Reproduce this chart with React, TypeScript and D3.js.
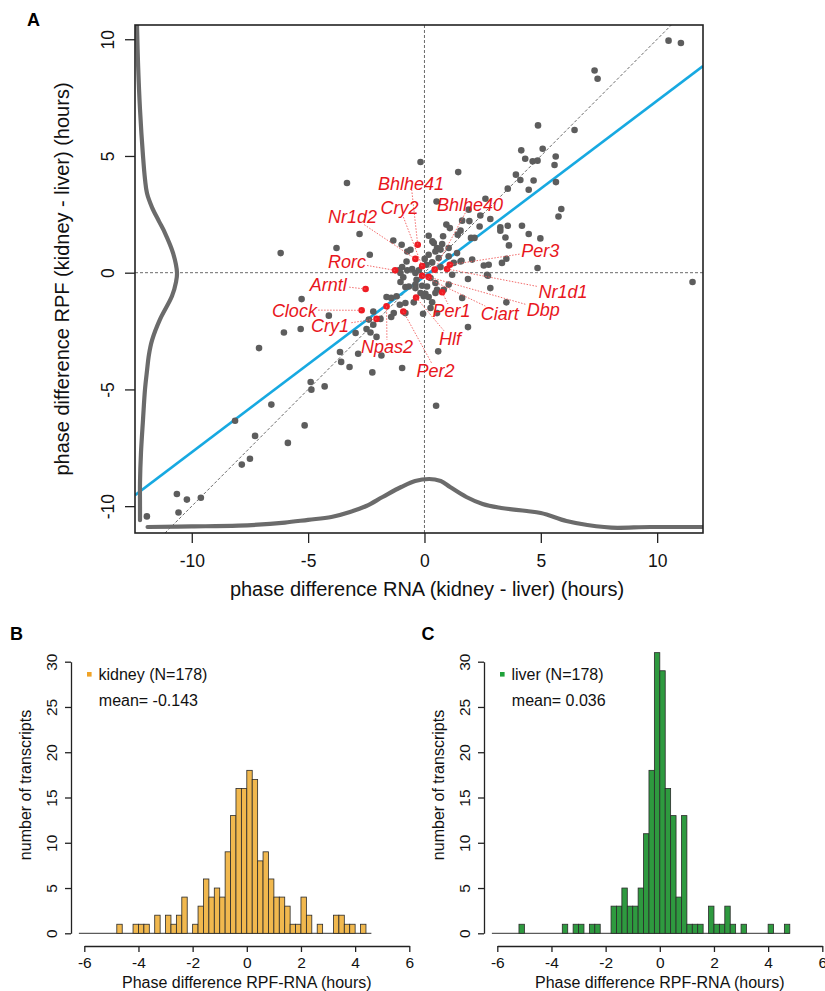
import React, { useEffect, useRef } from "react";
import * as d3 from "d3";

const FONT = "'Liberation Sans', Arial, Helvetica, sans-serif";

// ---- panel A: phase difference kidney - liver (hours) ----
// gray dots, one per rhythmic transcript
const rnaDiff = [
  10.49, 11.02, 7.31, 7.44, 4.88, 6.45, 4.16, 5.08, 4.33, 4.65,
  4.86, 5.64, 5.59, -0.17, 1.45, 3.93, 4.12, 4.69, 5.65, 3.58,
  4.48, 5.88, 5.76, 2.62, 0.52, 1.9, 2.4, 1.62, 1.93, 0.94,
  1.09, 1.55, 2.37, 2.83, 3.26, 3.26, 3.58, 4.19, 4.48, 4.98,
  3.48, 3.63, 2.0, 2.15, 1.43, 0.18, 0.4, 0.76, 1.04, 0.54,
  1.4, 1.59, 2.05, 3.33, 3.52, 2.55, 2.76, 4.86, 2.73, 1.87,
  1.19, 11.52, 0.8, 0.34, 0.69, 0.47, 0.18, 0.61, 1.04, 0.33,
  0.01, 0.09, 0.69, 1.26, 1.55,
  -3.33, -6.18, -2.79, -3.78, -2.35, -1.34, -0.98, -0.6, -0.74, -0.77,
  -0.96, -1.03, -0.91, -0.74, -0.53, -0.24, -0.34, -0.1, 0.11, 0.47,
  0.54, -0.67, 0.26, 1.04, 2.83, 2.69, -0.39, -1.1, -0.82,
  -0.39, -1.03,
  1.62, 3.52, 1.87, 0.59, 0.5, -0.96, -0.06, 0.47, 0.83,
  -0.17, 0.18, -0.82, -0.46, -0.39, 0.04, 0.33, 0.26, 0.54, -0.03,
  -5.28, -4.11, -6.04, -5.32, -7.11, -3.63, -2.85, -3.58, -3.22, -2.24,
  -1.85, -4.89, -4.86, -4.29, -6.58, -5.15, -8.14, -7.28, -5.87, -7.5,
  -7.85, -10.64, -10.21, -9.61, -10.57, -11.93, -2.39, -2.2, -2.2, -2.49,
  -2.32, -2.06, -2.96, -1.89, -1.63, -1.43, -1.2, -1.06, -0.82, -1.43,
  -1.32,
];
const rpfDiff = [
  9.94, 9.84, 8.66, 8.31, 6.31, 6.11, 5.24, 5.31, 4.88, 4.77,
  4.8, 4.98, 4.61, 4.74, 4.31, 4.2, 3.97, 3.95, 3.88, 3.6,
  3.55, 2.73, 2.41, 3.17, 3.05, 2.7, 2.45, 2.23, 2.21, 2.06,
  1.91, 1.8, 1.98, 2.3, 1.94, 1.8, 2.01, 2.01, 1.66, 1.47,
  1.51, 1.17, 1.49, 1.49, 1.63, 1.58, 1.27, 1.23, 1.06, 1.06,
  0.84, 0.51, 0.56, 0.42, 0.6, 0.31, 0.34, 0.2, -0.13, -0.27,
  -0.09, -0.4, 1.56, 1.34, 0.99, 0.91, 0.77, 0.63, 0.7, 0.44,
  0.59, 0.34, 0.24, 0.42, 0.48,
  3.84, 0.84, 1.66, 1.06, 0.77, 1.38, 1.2, 0.98, 0.91, 0.48,
  0.24, -0.01, -0.2, 0.1, 0.16, 0.1, -0.3, -0.56, -0.59, -0.44,
  -0.73, -0.59, -0.23, -0.51, -0.66, -0.09, -0.01, 0.1, -0.61,
  -0.51, -0.4,
  -1.08, -1.27, -2.33, -3.37, -5.7, -4.08, -1.76, -0.87, -0.73,
  -0.87, -1.04, -1.73, -1.27, -0.66, -0.9, -1.27, -1.51, -1.73, -1.01,
  -1.13, -1.84, -2.56, -2.41, -3.23, -3.4, -3.47, -3.82, -4.04, -4.27,
  -3.55, -4.68, -5.01, -4.87, -5.65, -6.54, -6.34, -6.99, -7.29, -7.97,
  -8.22, -9.48, -9.72, -9.64, -10.27, -10.44, -2.01, -1.66, -2.23, -2.41,
  -2.56, -2.75, -2.58, -1.98, -1.04, -1.08, -1.01, -1.37, -1.3, -1.9,
  -1.73,
];

// red dots: core clock genes
const clockGenes = ["Bhlhe41", "Cry2", "Nr1d2", "Bhlhe40", "Rorc", "Arntl", "Clock", "Cry1",
  "Npas2", "Per2", "Hlf", "Per1", "Ciart", "Dbp", "Nr1d1", "Per3"];
const clockRna = [-0.29, -0.1, -0.39, 0.44, -1.26, -2.53, -2.7, -2.06,
  -1.63, -0.91, -0.36, 0.76, -0.1, 0.18, 0.97, 1.09];
const clockRpf = [1.2, 0.28, 0.59, 0.13, 0.1, -0.7, -1.61, -1.98,
  -1.44, -1.66, -1.06, -0.84, -0.13, -0.18, 0.16, 0.34];
// where each gene name sits (centre, data units)
const labelRna = [-0.58, -1.07, -3.09, 1.96, -3.33, -4.13, -5.59, -4.06,
  -1.61, 0.47, 1.1, 1.16, 3.24, 5.11, 5.95, 4.98];
const labelRpf = [3.84, 2.81, 2.39, 2.94, 0.46, -0.52, -1.6, -2.28,
  -3.18, -4.17, -2.8, -1.64, -1.73, -1.57, -0.8, 0.93];

// fitted line (blue)
const fitSlope = 0.753;
const fitIntercept = -0.16;

// marginal densities
const rpfDensityAt = [10.6, 9, 7, 5, 4, 3.4, 2.8, 2.2, 1.7, 0.85, 0, -0.4, -1, -2, -2.9, -3.5, -4.2, -5, -6.3, -7.7, -9, -10, -10.6];
const rpfDensity = [0.005, 0.01, 0.02, 0.035, 0.045, 0.055, 0.08, 0.115, 0.145, 0.185, 0.205, 0.2, 0.18, 0.12, 0.08, 0.065, 0.055, 0.045, 0.035, 0.025, 0.02, 0.02, 0.02];
const rnaDensityAt = [-11.9, -10, -8, -6, -5, -4, -3.2, -2.5, -1.8, -1, -0.4, 0.2, 0.7, 1.1, 1.8, 2.5, 3.3, 4.4, 5, 6.1, 7, 8.3, 9.7, 11.1, 11.97];
const rnaDensity = [0.01, 0.013, 0.017, 0.032, 0.046, 0.06, 0.085, 0.115, 0.16, 0.21, 0.24, 0.25, 0.24, 0.21, 0.16, 0.125, 0.105, 0.09, 0.08, 0.04, 0.02, 0.006, 0.01, 0.01, 0.01];

const scatterTicks = [-10, -5, 0, 5, 10];

// ---- panels B, C: histograms of RPF-RNA phase difference ----
const binStart = -6.2;
const binWidth = 0.2;
const kidneyCounts = [
  0, 0, 0, 0, 0, 0, 0, 1, 0, 0, 1, 1, 1, 0, 2, 0, 2, 1, 2, 4,
  0, 1, 3, 6, 4, 5, 4, 9, 13, 16, 16, 18, 17, 8, 9, 6, 4, 4, 3, 1,
  1, 4, 2, 0, 1, 0, 0, 2, 2, 1, 1, 0, 1, 0,
];
const liverCounts = [
  0, 0, 0, 0, 0, 1, 0, 0, 0, 0, 0, 0, 0, 1, 0, 1, 1, 0, 1, 1,
  0, 0, 3, 3, 5, 3, 3, 5, 11, 18, 31, 29, 16, 13, 4, 13, 1, 1, 1, 0,
  3, 1, 1, 3, 1, 0, 1, 0, 0, 0, 0, 1, 0, 0, 1,
];
const histTicksX = [-6, -4, -2, 0, 2, 4, 6];
const histTicksY = [0, 5, 10, 15, 20, 25, 30];

function drawScatter(svg) {
  const left = 135, right = 703, top = 25, bottom = 533;
  const x = d3.scaleLinear().domain([-12.44, 11.97]).range([left, right]);
  const y = d3.scaleLinear().domain([-11.15, 10.61]).range([bottom, top]);
  const g = svg.append("g");

  g.append("clipPath").attr("id", "clipA")
    .append("rect").attr("x", left).attr("y", top).attr("width", right - left).attr("height", bottom - top);
  const plot = g.append("g").attr("clip-path", "url(#clipA)");

  // dashed reference lines
  const [xa, xb] = x.domain();
  const [ya, yb] = y.domain();
  const dash = (x1, y1, x2, y2) =>
    plot.append("line")
      .attr("x1", x(x1)).attr("y1", y(y1)).attr("x2", x(x2)).attr("y2", y(y2))
      .attr("stroke", "#6a6a6a").attr("stroke-width", 1).attr("stroke-dasharray", "3,2");
  dash(xa, 0, xb, 0);
  dash(0, ya, 0, yb);
  dash(Math.max(xa, ya), Math.max(xa, ya), Math.min(xb, yb), Math.min(xb, yb));

  // regression line
  plot.append("line")
    .attr("x1", x(xa)).attr("y1", y(fitSlope * xa + fitIntercept))
    .attr("x2", x(xb)).attr("y2", y(fitSlope * xb + fitIntercept))
    .attr("stroke", "#17a9e1").attr("stroke-width", 2.6);

  // marginal density curves
  const dens = d3.scaleLinear().domain([0, 1]).range([0, 200]);
  const leftCurve = d3.line()
    .x((d, i) => left + 1 + dens(rpfDensity[i]))
    .y(d => y(d))
    .curve(d3.curveCatmullRom);
  const bottomCurve = d3.line()
    .x(d => x(d))
    .y((d, i) => bottom - 4 - dens(rnaDensity[i]))
    .curve(d3.curveMonotoneX);
  [leftCurve(rpfDensityAt), bottomCurve(rnaDensityAt)].forEach(p =>
    plot.append("path").attr("d", p).attr("fill", "none")
      .attr("stroke", "#6b6b6b").attr("stroke-width", 4.2).attr("stroke-linecap", "round"));

  // gray points
  plot.append("g").selectAll("circle")
    .data(rnaDiff)
    .enter()
    .append("circle")
      .attr("cx", d => x(d))
      .attr("cy", (d, i) => y(rpfDiff[i]))
      .attr("r", 3.3)
      .attr("fill", "#5d5d5d");

  // clock gene labels + leaders
  const labels = g.append("g");
  clockGenes.forEach((name, i) => {
    const px = x(clockRna[i]), py = y(clockRpf[i]);
    const lx = x(labelRna[i]), ly = y(labelRpf[i]);
    const t = labels.append("text")
      .attr("x", lx).attr("y", ly).attr("dy", "0.36em")
      .attr("text-anchor", "middle")
      .attr("font-size", 18).attr("font-style", "italic")
      .attr("fill", "#e8161c").attr("font-family", FONT)
      .text(name);
    const w = (t.node() as SVGTextElement).getComputedTextLength();
    const hw = w / 2 + 1, hh = 7;
    const dx = px - lx, dy = py - ly;
    const k = Math.min(Math.abs(dx) > 0 ? hw / Math.abs(dx) : 99, Math.abs(dy) > 0 ? hh / Math.abs(dy) : 99);
    labels.insert("line", "text")
      .attr("x1", px).attr("y1", py)
      .attr("x2", lx + dx * k).attr("y2", ly + dy * k)
      .attr("stroke", "#f05a5a").attr("stroke-width", 0.9).attr("stroke-dasharray", "1.5,1.5");
  });

  plot.append("g").selectAll("circle")
    .data(clockRna)
    .enter()
    .append("circle")
      .attr("cx", d => x(d))
      .attr("cy", (d, i) => y(clockRpf[i]))
      .attr("r", 3.3)
      .attr("fill", "#ee1c24");

  // frame
  g.append("rect").attr("x", left).attr("y", top).attr("width", right - left).attr("height", bottom - top)
    .attr("fill", "none").attr("stroke", "#222").attr("stroke-width", 1.6);

  // axes
  const ax = g.append("g").attr("transform", "translate(0," + bottom + ")")
    .call(d3.axisBottom(x).tickValues(scatterTicks).tickSize(10).tickSizeOuter(0).tickFormat(d => String(d)));
  ax.select(".domain").remove();
  ax.selectAll(".tick line").attr("stroke", "#222").attr("stroke-width", 1.3);
  ax.selectAll(".tick text").attr("y", 34).attr("dy", 0)
    .attr("font-size", 17.5).attr("font-family", FONT).attr("fill", "#111");

  const ay = g.append("g").attr("transform", "translate(" + left + ",0)")
    .call(d3.axisLeft(y).tickValues(scatterTicks).tickSize(10).tickSizeOuter(0).tickFormat(d => String(d)));
  ay.select(".domain").remove();
  ay.selectAll(".tick line").attr("stroke", "#222").attr("stroke-width", 1.3);
  ay.selectAll(".tick text").attr("x", 0).attr("dy", 0).attr("text-anchor", "middle")
    .attr("transform", "translate(-21.5,0) rotate(-90)")
    .attr("font-size", 17.5).attr("font-family", FONT).attr("fill", "#111");

  g.append("text").attr("x", 427).attr("y", 596).attr("text-anchor", "middle")
    .attr("font-size", 20).attr("font-family", FONT).attr("fill", "#111")
    .text("phase difference RNA (kidney - liver) (hours)");
  g.append("text").attr("transform", "translate(68.5," + (top + bottom) / 2 + ") rotate(-90)")
    .attr("text-anchor", "middle")
    .attr("font-size", 20).attr("font-family", FONT).attr("fill", "#111")
    .text("phase difference RPF (kidney - liver) (hours)");
  g.append("text").attr("x", 27).attr("y", 26)
    .attr("font-size", 18).attr("font-weight", "bold").attr("font-family", FONT).text("A");
}

function drawHist(svg, o) {
  const x = d3.scaleLinear().domain([-6, 6]).range([o.axisX + 13.3, o.axisX + 338.3]);
  const y = d3.scaleLinear().domain([0, 30]).range([933.3, 661.7]);
  const g = svg.append("g");
  const bins = o.counts.map((c, i) => ({ x0: binStart + i * binWidth, x1: binStart + (i + 1) * binWidth, c }));

  // zero baseline of the histogram
  g.append("line")
    .attr("x1", x(bins[0].x0)).attr("x2", x(bins[bins.length - 1].x1))
    .attr("y1", y(0)).attr("y2", y(0))
    .attr("stroke", "#333").attr("stroke-width", 1);

  g.selectAll("rect.bar")
    .data(bins.filter(b => b.c > 0))
    .enter()
    .append("rect")
      .attr("class", "bar")
      .attr("x", d => x(d.x0))
      .attr("y", d => y(d.c))
      .attr("width", d => x(d.x1) - x(d.x0))
      .attr("height", d => y(0) - y(d.c))
      .attr("fill", o.fill)
      .attr("stroke", "#2a2a2a")
      .attr("stroke-width", 0.8);

  const ax = g.append("g").attr("transform", "translate(0,946)")
    .call(d3.axisBottom(x).tickValues(histTicksX).tickSize(6).tickSizeOuter(0).tickFormat(d => String(d)));
  ax.select(".domain").attr("stroke", "#222").attr("stroke-width", 1.3);
  ax.selectAll(".tick line").attr("stroke", "#222").attr("stroke-width", 1.3);
  ax.selectAll(".tick text").attr("y", 22.3).attr("dy", 0)
    .attr("font-size", 15.5).attr("font-family", FONT).attr("fill", "#111");

  const ay = g.append("g").attr("transform", "translate(" + o.axisX + ",0)")
    .call(d3.axisLeft(y).tickValues(histTicksY).tickSize(6).tickSizeOuter(0).tickFormat(d => String(d)));
  ay.select(".domain").attr("stroke", "#222").attr("stroke-width", 1.3);
  ay.selectAll(".tick line").attr("stroke", "#222").attr("stroke-width", 1.3);
  ay.selectAll(".tick text").attr("x", 0).attr("dy", 0).attr("text-anchor", "middle")
    .attr("transform", "translate(-14,0) rotate(-90)")
    .attr("font-size", 15.5).attr("font-family", FONT).attr("fill", "#111");

  g.append("text").attr("x", x(0)).attr("y", 988).attr("text-anchor", "middle")
    .attr("font-size", 16).attr("font-family", FONT).attr("fill", "#111")
    .text("Phase difference RPF-RNA (hours)");
  g.append("text").attr("transform", "translate(" + (o.axisX - 40) + ",785) rotate(-90)")
    .attr("text-anchor", "middle")
    .attr("font-size", 16).attr("font-family", FONT).attr("fill", "#111")
    .text("number of transcripts");

  // legend
  g.append("rect").attr("x", o.axisX + 16).attr("y", 672).attr("width", 4.6).attr("height", 4.6)
    .attr("fill", o.legendColor);
  g.append("text").attr("x", o.axisX + 27.5).attr("y", 680)
    .attr("font-size", 16).attr("font-family", FONT).attr("fill", "#111").text(o.legend);
  g.append("text").attr("x", o.axisX + 27.8).attr("y", 705.7)
    .attr("font-size", 16).attr("font-family", FONT).attr("fill", "#111").text(o.mean);

  g.append("text").attr("x", o.labelX).attr("y", 640)
    .attr("font-size", 18).attr("font-weight", "bold").attr("font-family", FONT).text(o.label);
}

export default function App() {
  const ref = useRef(null);

  useEffect(() => {
    const svg = d3.select(ref.current);
    svg.selectAll("*").remove();
    drawScatter(svg);
    drawHist(svg, {
      axisX: 71, counts: kidneyCounts, fill: "#f1b84e", legendColor: "#f0a326",
      legend: "kidney (N=178)", mean: "mean= -0.143", label: "B", labelX: 10,
    });
    drawHist(svg, {
      axisX: 484, counts: liverCounts, fill: "#2e9a3f", legendColor: "#1fa23a",
      legend: "liver (N=178)", mean: "mean= 0.036", label: "C", labelX: 421.5,
    });
  }, []);

  return (
    <svg ref={ref} width={825} height={991}
      style={{ position: "absolute", left: 0, top: 0, background: "#fff" }} />
  );
}
